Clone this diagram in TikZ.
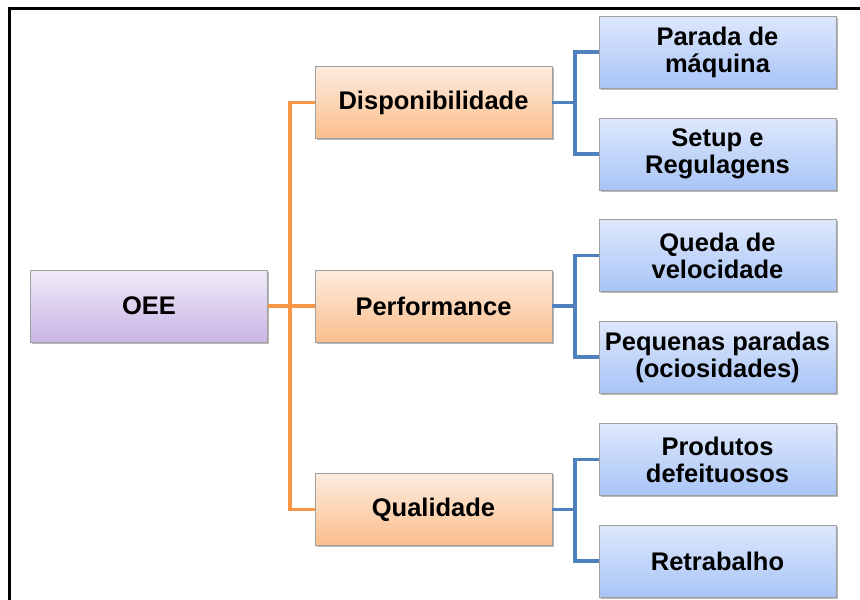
\documentclass[tikz,border=0pt]{standalone}
\usepackage{fontspec}
\setmainfont{Liberation Sans}
\usetikzlibrary{shadows}
\definecolor{orline}{HTML}{F79646}
\definecolor{blline}{HTML}{4F81BD}
\definecolor{bordgray}{HTML}{A0A0A0}
\tikzset{
  box/.style={draw=bordgray, line width=0.8pt, minimum width=237pt, minimum height=72pt,
    inner sep=0pt, align=center, font=\fontsize{25.5}{27}\selectfont\bfseries,
    general shadow={fill=black!28, shadow xshift=1.5pt, shadow yshift=-1.8pt}},
  purplebox/.style={box, top color={rgb,255:red,240;green,234;blue,248}, bottom color={rgb,255:red,200;green,182;blue,228}},
  orangebox/.style={box, top color={rgb,255:red,253;green,236;blue,222}, bottom color={rgb,255:red,250;green,190;blue,140}},
  bluebox/.style={box, top color={rgb,255:red,222;green,232;blue,252}, bottom color={rgb,255:red,168;green,196;blue,246}},
  oconn/.style={draw=orline, line width=3.2pt},
  bconn/.style={draw=blline, line width=3.2pt},
  frameline/.style={draw=black, line width=3pt}
}
\begin{document}
\begin{tikzpicture}[x=1pt,y=-1pt]
\useasboundingbox (0,0) rectangle (860,600);
\draw[frameline] (8,8) -- (860,8);
\draw[frameline] (9.5,6.5) -- (9.5,600);

\node[purplebox] (oee) at (149,306) {OEE};
\node[orangebox] (disp) at (433.5,102.5) {Disponibilidade};
\node[orangebox] (perf) at (433.5,306) {Performance};
\node[orangebox] (qual) at (433.5,509.5) {Qualidade};

\node[bluebox] (parada) at (717.5,52) {Parada de\\máquina};
\node[bluebox] (setup) at (717.5,154) {Setup e\\Regulagens};
\node[bluebox] (queda) at (717.5,255.5) {Queda de\\velocidade};
\node[bluebox] (peq) at (717.5,357) {Pequenas paradas\\(ociosidades)};
\node[bluebox] (prod) at (717.5,459.5) {Produtos\\defeituosos};
\node[bluebox] (retr) at (717.5,561) {Retrabalho};

\coordinate (ojoin) at (290,306);
\draw[oconn] (oee.east) -- (ojoin);
\draw[oconn] (ojoin) |- (disp.west);
\draw[oconn] (ojoin) -- (perf.west);
\draw[oconn] (ojoin) |- (qual.west);

\coordinate (bj1) at (575,102.5);
\coordinate (bj2) at (575,306);
\coordinate (bj3) at (575,509.5);
\draw[bconn] (disp.east) -- (bj1);
\draw[bconn] (bj1) |- (parada.west);
\draw[bconn] (bj1) |- (setup.west);
\draw[bconn] (perf.east) -- (bj2);
\draw[bconn] (bj2) |- (queda.west);
\draw[bconn] (bj2) |- (peq.west);
\draw[bconn] (qual.east) -- (bj3);
\draw[bconn] (bj3) |- (prod.west);
\draw[bconn] (bj3) |- (retr.west);
\end{tikzpicture}
\end{document}
